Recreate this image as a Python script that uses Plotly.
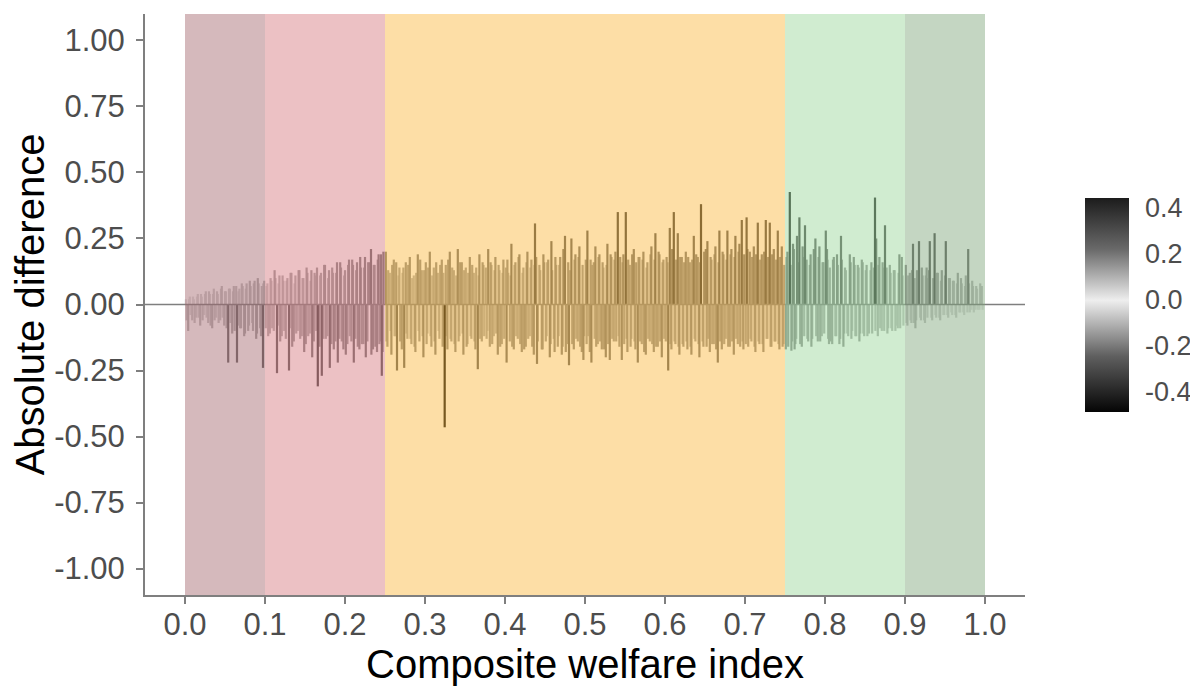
import plotly.graph_objects as go
from plotly.colors import sample_colorscale

# ---------------- data ----------------
band_edges = [0.0, 0.1, 0.25, 0.75, 0.9, 1.0]
# translucent band overlays (drawn above the segments, as in the original)
band_fills = ["rgba(162,99,106,0.45)", "rgba(213,118,124,0.45)", "rgba(251,182,57,0.45)",
              "rgba(151,213,151,0.45)", "rgba(124,164,119,0.45)"]

x_tick_vals = [0.0, 0.1, 0.2, 0.3, 0.4, 0.5, 0.6, 0.7, 0.8, 0.9, 1.0]
x_tick_text = ["0.0", "0.1", "0.2", "0.3", "0.4", "0.5", "0.6", "0.7", "0.8", "0.9", "1.0"]
y_tick_vals = [-1.0, -0.75, -0.5, -0.25, 0.0, 0.25, 0.5, 0.75, 1.0]
y_tick_text = ["-1.00", "-0.75", "-0.50", "-0.25", "0.00", "0.25", "0.50", "0.75", "1.00"]
cb_tick_vals = [-0.4, -0.2, 0.0, 0.2, 0.4]
cb_tick_text = ["-0.4", "-0.2", "0.0", "0.2", "0.4"]

# ---- set A ----
x_band1 = [0.001, 0.004, 0.006, 0.009, 0.011, 0.014, 0.016, 0.019, 0.021, 0.024, 0.026, 0.029, 0.031, 0.034,
           0.036, 0.039, 0.041, 0.044, 0.046, 0.049, 0.051, 0.054, 0.056, 0.059, 0.061, 0.065, 0.067, 0.069,
           0.071, 0.074, 0.076, 0.079, 0.081, 0.084, 0.086, 0.089, 0.091, 0.094, 0.096, 0.0975, 0.099]
y_band1 = [0.02, -0.10, 0.03, -0.06, 0.02, -0.05, 0.04, -0.08, 0.03, -0.04, 0.05, -0.07, 0.04, -0.09,
           0.06, -0.05, 0.04, -0.06, 0.07, -0.08, 0.05, -0.22, 0.06, -0.11, 0.07, -0.22, 0.05, -0.09,
           0.08, -0.12, 0.06, -0.10, 0.09, -0.07, 0.08, -0.13, 0.10, -0.09, 0.07, -0.24, 0.09]

x_band2 = [0.102, 0.104, 0.107, 0.109, 0.112, 0.115, 0.117, 0.119, 0.122, 0.124, 0.127, 0.130, 0.132, 0.134,
           0.137, 0.139, 0.142, 0.144, 0.147, 0.149, 0.152, 0.154, 0.157, 0.159, 0.162, 0.164, 0.166, 0.169,
           0.171, 0.174, 0.176, 0.179, 0.181, 0.184, 0.186, 0.189, 0.191, 0.194, 0.196, 0.199, 0.201, 0.204,
           0.206, 0.209, 0.211, 0.214, 0.216, 0.219, 0.221, 0.224, 0.226, 0.229, 0.2325, 0.235, 0.237, 0.240,
           0.242, 0.244, 0.246, 0.248]
y_band2 = [0.07, -0.12, 0.10, -0.09, 0.13, -0.26, 0.08, -0.14, 0.11, -0.10, 0.09, -0.25, 0.12, -0.16,
           0.08, -0.11, 0.13, -0.13, 0.10, -0.18, 0.14, -0.12, 0.09, -0.20, 0.12, -0.10, -0.31, 0.11,
           -0.27, 0.15, -0.13, 0.10, -0.24, 0.14, -0.17, 0.12, -0.22, 0.16, -0.14, 0.11, -0.19, 0.15,
           -0.12, 0.17, -0.22, 0.13, -0.16, 0.18, -0.15, 0.14, -0.20, 0.16, 0.21, -0.17, 0.15, -0.18,
           0.19, -0.14, -0.27, 0.20]

x_band3a = [0.251, 0.253, 0.256, 0.258, 0.261, 0.263, 0.265, 0.268, 0.271, 0.274, 0.276, 0.278, 0.281, 0.283,
            0.286, 0.288, 0.291, 0.293, 0.296, 0.298, 0.301, 0.303, 0.306, 0.308, 0.311, 0.313, 0.316, 0.318,
            0.321, 0.3246, 0.326, 0.328, 0.331, 0.333, 0.336, 0.338, 0.341, 0.343, 0.346, 0.348, 0.351, 0.353,
            0.356, 0.358, 0.361, 0.363, 0.366, 0.368, 0.371, 0.373]
y_band3a = [0.20, -0.16, 0.12, -0.19, 0.17, -0.12, -0.25, 0.14, -0.17, -0.24, 0.16, -0.13, 0.18, -0.15,
            0.11, -0.18, 0.19, -0.14, 0.13, -0.20, 0.16, -0.11, 0.20, -0.16, 0.14, -0.19, 0.12, -0.13,
            0.17, -0.465, 0.15, -0.17, 0.20, -0.14, 0.13, -0.18, 0.21, -0.12, 0.16, -0.19, 0.14, -0.15,
            0.18, -0.13, 0.12, -0.17, -0.245, 0.19, -0.14, 0.15]

x_band3b = [0.376, 0.379, 0.381, 0.383, 0.386, 0.388, 0.391, 0.393, 0.396, 0.398, 0.402, 0.404, 0.406, 0.408,
            0.411, 0.413, 0.416, 0.418, 0.421, 0.423, 0.426, 0.428, 0.431, 0.433, 0.436, 0.4375, 0.440, 0.443,
            0.446, 0.448, 0.451, 0.453, 0.456, 0.458, 0.461, 0.463, 0.466, 0.468, 0.471, 0.473, 0.475, 0.478,
            0.480, 0.483, 0.486, 0.488, 0.491, 0.493, 0.496, 0.498]
y_band3b = [0.14, 0.21, -0.16, 0.15, -0.12, 0.18, -0.19, 0.13, -0.15, 0.17, -0.22, 0.12, -0.14, 0.23,
            -0.17, 0.16, -0.13, 0.19, -0.18, 0.14, -0.16, 0.20, -0.12, 0.17, -0.19, 0.307, -0.225, 0.15,
            -0.17, 0.19, -0.14, 0.16, -0.20, 0.24, -0.13, 0.18, -0.16, 0.15, -0.19, 0.21, 0.26, -0.15,
            -0.23, 0.25, -0.17, 0.19, -0.14, 0.22, -0.18, -0.21]

x_band3c = [0.501, 0.503, 0.506, 0.508, 0.511, 0.513, 0.516, 0.518, 0.521, 0.523, 0.526, 0.528, 0.531, 0.533,
            0.536, 0.538, 0.541, 0.543, 0.546, 0.548, 0.551, 0.553, 0.556, 0.558, 0.561, 0.563, 0.566, 0.568,
            0.571, 0.573, 0.576, 0.578, 0.581, 0.583, 0.586, 0.588, 0.591, 0.593, 0.596, 0.598, 0.601, 0.604,
            0.606, 0.608, 0.611, 0.613, 0.616, 0.618, 0.621, 0.623]
y_band3c = [0.17, 0.28, -0.18, -0.22, 0.16, 0.22, -0.15, 0.19, -0.17, 0.14, -0.20, 0.23, -0.21, 0.18,
            -0.14, 0.20, 0.35, -0.16, -0.21, 0.19, 0.35, -0.18, 0.15, -0.13, 0.21, -0.17, -0.22, 0.18,
            -0.15, 0.20, -0.19, 0.16, -0.14, 0.22, -0.18, 0.27, -0.16, 0.19, -0.20, 0.17, -0.14, -0.25,
            0.29, -0.17, 0.35, -0.15, 0.27, -0.19, 0.18, -0.16]

x_band3d = [0.626, 0.628, 0.631, 0.633, 0.636, 0.638, 0.641, 0.643, 0.645, 0.648, 0.651, 0.653, 0.656, 0.658,
            0.661, 0.663, 0.666, 0.668, 0.671, 0.673, 0.676, 0.678, 0.681, 0.683, 0.686, 0.688, 0.691, 0.693,
            0.696, 0.698, 0.702, 0.704, 0.706, 0.708, 0.711, 0.713, 0.716, 0.718, 0.721, 0.723, 0.726, 0.728,
            0.731, 0.733, 0.736, 0.738, 0.741, 0.743, 0.746, 0.748]
y_band3d = [0.20, -0.17, 0.16, -0.19, 0.26, -0.14, 0.18, -0.20, 0.38, -0.16, 0.21, 0.24, -0.18, 0.17,
            -0.15, 0.22, -0.22, 0.28, -0.17, 0.19, -0.13, 0.28, -0.16, 0.21, -0.19, 0.26, -0.15, 0.23,
            0.32, -0.17, 0.33, -0.16, 0.20, -0.14, 0.22, -0.18, 0.31, -0.15, 0.19, -0.18, 0.32, -0.13,
            0.31, -0.16, 0.21, -0.14, 0.28, -0.17, 0.22, -0.15]

x_band4 = [0.751, 0.753, 0.756, 0.758, 0.760, 0.763, 0.765, 0.768, 0.771, 0.773, 0.775, 0.778, 0.781, 0.783,
           0.786, 0.788, 0.791, 0.793, 0.796, 0.798, 0.801, 0.8025, 0.805, 0.807, 0.810, 0.813, 0.815, 0.818,
           0.820, 0.823, 0.825, 0.828, 0.831, 0.833, 0.836, 0.838, 0.841, 0.843, 0.846, 0.848, 0.851, 0.853,
           0.855, 0.858, 0.8625, 0.864, 0.866, 0.868, 0.871, 0.873, 0.875, 0.878, 0.881, 0.883, 0.886, 0.888,
           0.891, 0.893, 0.896, 0.898]
y_band4 = [-0.17, 0.20, 0.426, -0.175, 0.23, -0.15, 0.26, 0.33, -0.16, 0.18, 0.30, -0.13, 0.15, -0.16,
           0.21, 0.25, -0.14, 0.22, -0.12, 0.16, 0.28, 0.21, -0.15, -0.14, 0.17, -0.12, 0.19, -0.15,
           0.26, -0.16, 0.14, -0.11, 0.19, -0.13, 0.18, -0.12, 0.15, -0.14, 0.17, -0.11, 0.13, -0.12,
           -0.11, 0.16, 0.405, 0.25, -0.12, 0.18, -0.10, 0.14, 0.30, -0.11, 0.15, -0.09, 0.13, -0.10,
           -0.09, 0.19, 0.18, -0.08]

x_band5 = [0.901, 0.903, 0.906, 0.908, 0.910, 0.913, 0.915, 0.9175, 0.920, 0.922, 0.925, 0.927, 0.929, 0.931,
           0.934, 0.937, 0.939, 0.941, 0.944, 0.946, 0.949, 0.951, 0.954, 0.956, 0.959, 0.961, 0.964, 0.966,
           0.969, 0.971, 0.974, 0.976, 0.979, 0.981, 0.984, 0.986, 0.989, 0.991, 0.994, 0.997]
y_band5 = [0.15, -0.08, 0.12, -0.07, 0.23, -0.09, 0.13, 0.24, -0.06, 0.11, -0.07, 0.14, 0.10, 0.24,
           -0.06, 0.27, -0.05, 0.12, -0.06, 0.13, -0.04, 0.24, -0.05, 0.10, -0.04, 0.09, -0.05, 0.12,
           -0.03, 0.08, -0.04, 0.11, 0.21, -0.03, 0.09, -0.03, 0.07, -0.02, 0.08, -0.02]

# ---- set B ----
xb_band1 = [0.002, 0.005, 0.007, 0.010, 0.012, 0.015, 0.017, 0.020, 0.022, 0.025, 0.027, 0.030, 0.032, 0.035,
            0.037, 0.040, 0.042, 0.045, 0.047, 0.050, 0.052, 0.055, 0.057, 0.060, 0.062, 0.064, 0.066, 0.068,
            0.070, 0.072, 0.075, 0.077, 0.080, 0.082, 0.085, 0.087, 0.090, 0.092, 0.095, 0.098]
yb_band1 = [-0.06, 0.02, -0.04, 0.03, -0.07, 0.03, -0.05, 0.04, -0.06, 0.04, -0.05, 0.05, -0.08, 0.04,
            -0.06, 0.05, -0.07, 0.06, -0.05, 0.05, -0.09, 0.06, -0.07, 0.05, -0.10, 0.07, -0.08, 0.06,
            -0.09, 0.07, -0.11, 0.08, -0.08, 0.07, -0.10, 0.09, -0.11, 0.08, -0.12, 0.08]

xb_band2 = [0.101, 0.103, 0.106, 0.108, 0.111, 0.113, 0.116, 0.118, 0.121, 0.123, 0.126, 0.128, 0.131, 0.133,
            0.136, 0.138, 0.141, 0.143, 0.146, 0.148, 0.151, 0.153, 0.156, 0.158, 0.161, 0.163, 0.165, 0.168,
            0.170, 0.173, 0.175, 0.178, 0.180, 0.183, 0.185, 0.188, 0.190, 0.193, 0.195, 0.198, 0.200, 0.203,
            0.205, 0.208, 0.210, 0.213, 0.215, 0.218, 0.220, 0.223, 0.225, 0.228, 0.231, 0.233, 0.236, 0.238,
            0.241, 0.243, 0.245, 0.247]
yb_band2 = [-0.09, 0.08, -0.11, 0.09, -0.10, 0.10, -0.08, 0.11, -0.12, 0.09, -0.13, 0.10, -0.09, 0.12,
            -0.14, 0.11, -0.10, 0.13, -0.12, 0.10, -0.15, 0.12, -0.11, 0.13, -0.14, 0.11, 0.14, -0.16,
            0.12, -0.13, 0.15, -0.12, 0.13, -0.15, 0.12, -0.14, 0.16, -0.13, 0.14, -0.17, 0.13, -0.15,
            0.17, -0.14, 0.15, -0.13, 0.16, -0.17, 0.14, -0.15, 0.18, -0.14, 0.16, -0.19, 0.15, -0.16,
            0.17, -0.15, 0.19, -0.18]

xb_band3a = [0.252, 0.254, 0.257, 0.259, 0.262, 0.264, 0.267, 0.269, 0.272, 0.273, 0.277, 0.279, 0.282, 0.284,
             0.287, 0.289, 0.292, 0.294, 0.297, 0.299, 0.302, 0.304, 0.307, 0.309, 0.312, 0.314, 0.317, 0.319,
             0.322, 0.323, 0.327, 0.329, 0.332, 0.334, 0.337, 0.339, 0.342, 0.344, 0.347, 0.349, 0.352, 0.354,
             0.357, 0.359, 0.362, 0.364, 0.367, 0.369, 0.372, 0.374]
yb_band3a = [-0.14, 0.13, -0.10, 0.15, -0.12, 0.16, 0.11, -0.14, 0.12, 0.14, -0.11, 0.15, -0.13, 0.10,
             -0.16, 0.12, -0.10, 0.17, -0.12, 0.13, -0.15, 0.14, -0.12, 0.11, -0.14, 0.16, -0.10, 0.15,
             -0.16, 0.12, -0.12, 0.17, -0.13, 0.14, -0.15, 0.11, -0.14, 0.16, -0.11, 0.13, -0.16, 0.12,
             -0.12, 0.15, -0.14, 0.14, 0.11, -0.13, 0.16, -0.12]

xb_band3b = [0.377, 0.378, 0.382, 0.384, 0.387, 0.389, 0.392, 0.394, 0.397, 0.399, 0.401, 0.403, 0.407, 0.409,
             0.412, 0.414, 0.417, 0.419, 0.422, 0.424, 0.427, 0.429, 0.432, 0.434, 0.437, 0.439, 0.441, 0.444,
             0.447, 0.449, 0.452, 0.454, 0.457, 0.459, 0.462, 0.464, 0.467, 0.469, 0.472, 0.474, 0.476, 0.479,
             0.481, 0.484, 0.487, 0.489, 0.492, 0.494, 0.497, 0.499]
yb_band3b = [-0.13, -0.10, 0.16, -0.15, 0.13, -0.11, 0.15, -0.16, 0.12, -0.13, 0.14, 0.17, 0.11, -0.16,
             0.15, -0.12, 0.18, -0.15, 0.12, -0.17, 0.16, -0.13, 0.14, -0.16, 0.15, 0.18, -0.14, 0.13,
             -0.17, 0.16, -0.12, 0.17, -0.15, 0.13, -0.18, 0.15, -0.12, 0.18, -0.16, 0.14, -0.18, 0.16,
             0.13, -0.15, 0.17, -0.13, 0.18, -0.16, 0.15, -0.12]

xb_band3c = [0.502, 0.504, 0.507, 0.509, 0.512, 0.514, 0.517, 0.519, 0.522, 0.524, 0.527, 0.529, 0.532, 0.534,
             0.537, 0.539, 0.542, 0.544, 0.547, 0.549, 0.552, 0.554, 0.557, 0.559, 0.562, 0.564, 0.567, 0.569,
             0.572, 0.574, 0.577, 0.579, 0.582, 0.584, 0.587, 0.589, 0.592, 0.594, 0.597, 0.599, 0.602, 0.603,
             0.607, 0.609, 0.612, 0.614, 0.617, 0.619, 0.622, 0.624]
yb_band3c = [-0.15, -0.12, 0.17, 0.15, -0.13, -0.16, 0.18, -0.14, 0.16, -0.17, 0.15, -0.15, 0.19, -0.13,
             0.17, -0.14, -0.12, 0.18, 0.16, -0.15, -0.13, 0.17, -0.16, 0.19, -0.14, 0.16, 0.18, -0.14,
             0.17, -0.18, 0.14, -0.13, 0.19, -0.15, 0.17, -0.16, 0.20, -0.14, 0.16, -0.13, 0.18, 0.16,
             -0.15, 0.21, -0.14, 0.17, -0.16, 0.18, -0.15, 0.16]

xb_band3d = [0.627, 0.629, 0.632, 0.634, 0.637, 0.639, 0.642, 0.644, 0.647, 0.649, 0.652, 0.654, 0.657, 0.659,
             0.662, 0.664, 0.667, 0.669, 0.672, 0.674, 0.677, 0.679, 0.682, 0.684, 0.687, 0.689, 0.692, 0.694,
             0.697, 0.699, 0.701, 0.703, 0.707, 0.709, 0.712, 0.714, 0.717, 0.719, 0.722, 0.724, 0.727, 0.729,
             0.732, 0.734, 0.737, 0.739, 0.742, 0.744, 0.747, 0.749]
yb_band3d = [-0.14, 0.18, -0.16, 0.17, -0.13, 0.19, -0.15, 0.16, -0.14, 0.20, -0.16, -0.13, 0.18, -0.15,
             0.19, -0.17, 0.16, -0.14, 0.20, -0.15, 0.17, -0.16, 0.19, -0.14, 0.18, -0.13, 0.20, -0.16,
             -0.14, 0.19, -0.15, 0.21, -0.13, 0.18, -0.16, 0.19, -0.14, 0.17, -0.15, 0.20, -0.13, 0.18,
             -0.16, 0.19, -0.14, 0.17, -0.15, 0.18, -0.16, 0.15]

xb_band4 = [0.752, 0.754, 0.757, 0.759, 0.761, 0.762, 0.764, 0.767, 0.769, 0.772, 0.774, 0.777, 0.779, 0.782,
            0.784, 0.787, 0.789, 0.792, 0.794, 0.797, 0.799, 0.803, 0.804, 0.806, 0.809, 0.811, 0.814, 0.816,
            0.819, 0.821, 0.824, 0.826, 0.829, 0.832, 0.834, 0.837, 0.839, 0.842, 0.844, 0.847, 0.849, 0.852,
            0.854, 0.857, 0.859, 0.861, 0.863, 0.867, 0.869, 0.872, 0.874, 0.877, 0.879, 0.882, 0.884, 0.887,
            0.889, 0.892, 0.894, 0.897]
yb_band4 = [0.18, -0.16, 0.15, -0.14, 0.21, -0.17, -0.13, 0.16, -0.15, 0.22, -0.12, 0.17, -0.14, 0.19,
            -0.13, 0.15, -0.12, 0.18, -0.14, 0.16, -0.11, 0.17, -0.13, 0.14, -0.15, 0.18, -0.12, 0.15,
            -0.13, 0.17, -0.11, 0.13, -0.12, 0.16, -0.10, 0.15, -0.12, 0.14, -0.11, 0.16, -0.12, 0.15,
            -0.10, 0.13, -0.11, 0.14, -0.10, 0.15, -0.09, 0.16, -0.10, 0.14, -0.09, 0.12, -0.10, 0.13,
            -0.08, 0.12, -0.09, 0.11]

xb_band5 = [0.902, 0.904, 0.907, 0.909, 0.911, 0.912, 0.914, 0.916, 0.919, 0.921, 0.924, 0.926, 0.928, 0.930,
            0.933, 0.935, 0.938, 0.940, 0.943, 0.945, 0.948, 0.950, 0.953, 0.955, 0.958, 0.960, 0.963, 0.965,
            0.968, 0.970, 0.973, 0.975, 0.978, 0.980, 0.983, 0.985, 0.988, 0.990, 0.993, 0.996]
yb_band5 = [-0.07, 0.11, -0.06, 0.13, -0.07, 0.10, -0.06, 0.12, -0.05, 0.14, -0.06, 0.11, -0.05, 0.13,
            -0.05, 0.10, -0.04, 0.12, -0.05, 0.09, -0.04, 0.11, -0.04, 0.10, -0.03, 0.09, -0.04, 0.08,
            -0.03, 0.10, -0.03, 0.07, -0.03, 0.08, -0.02, 0.07, -0.02, 0.06, -0.02, 0.07]

welfare_index = (x_band1 + x_band2 + x_band3a + x_band3b + x_band3c + x_band3d + x_band4 + x_band5
                 + xb_band1 + xb_band2 + xb_band3a + xb_band3b + xb_band3c + xb_band3d + xb_band4 + xb_band5)
abs_difference = (y_band1 + y_band2 + y_band3a + y_band3b + y_band3c + y_band3d + y_band4 + y_band5
                  + yb_band1 + yb_band2 + yb_band3a + yb_band3b + yb_band3c + yb_band3d + yb_band4 + yb_band5)
assert len(welfare_index) == len(abs_difference)

# ---------------- styling ----------------
cmin, cmax = -0.485, 0.445
mid = (0 - cmin) / (cmax - cmin)
cscale = [
    [0.0, "rgb(5,5,5)"],
    [mid * 0.5, "rgb(95,95,95)"],
    [mid, "rgb(238,238,238)"],
    [mid + (1 - mid) * 0.5, "rgb(105,105,105)"],
    [1.0, "rgb(28,28,28)"],
]
FONT = "Liberation Sans, Arial, sans-serif"
AXIS_GREY = "#7f7f7f"
TICK_TXT = "#4d4d4d"

fig = go.Figure()

groups = {}
for xv, yv in zip(welfare_index, abs_difference):
    t = (yv - cmin) / (cmax - cmin)
    t = round(t * 60) / 60
    gx, gy = groups.setdefault(t, ([], []))
    gx += [xv, xv, None]
    gy += [0, yv, None]

for t, (gx, gy) in sorted(groups.items(), key=lambda kv: abs(kv[0] - mid)):
    c = sample_colorscale(cscale, [min(max(t, 0), 1)])[0]
    fig.add_trace(go.Scatter(x=gx, y=gy, mode="lines", line=dict(color=c, width=2.2),
                             hoverinfo="skip", showlegend=False))

# zero reference line (under the translucent bands)
fig.add_trace(go.Scatter(x=[-0.05, 1.05], y=[0, 0], mode="lines",
                         line=dict(color="#7f7f7f", width=1.5), hoverinfo="skip", showlegend=False))

for i, col in enumerate(band_fills):
    fig.add_vrect(x0=band_edges[i], x1=band_edges[i + 1], fillcolor=col, opacity=1,
                  line_width=0, layer="above")

fig.add_trace(go.Scatter(
    x=[None], y=[None], mode="markers", showlegend=False, hoverinfo="skip",
    marker=dict(color=[cmin, cmax], cmin=cmin, cmax=cmax, colorscale=cscale, showscale=True,
                colorbar=dict(thickness=44, len=214, lenmode="pixels", x=1.068, xanchor="left",
                              y=0.5, yanchor="middle", outlinewidth=0, xpad=0, ypad=0,
                              ticks="outside", ticklen=11, tickwidth=1, tickcolor="rgba(0,0,0,0)",
                              tickvals=cb_tick_vals, ticktext=cb_tick_text,
                              tickfont=dict(family=FONT, size=27, color=TICK_TXT)))))

# page body adds an 8px offset, so the figure is 8px smaller than the window
fig.update_layout(
    width=1190, height=679,
    margin=dict(l=137, r=173, t=6, b=92, autoexpand=False),
    plot_bgcolor="white", paper_bgcolor="white",
    font=dict(family=FONT),
    xaxis=dict(range=[-0.05, 1.05], tickvals=x_tick_vals, ticktext=x_tick_text, automargin=False,
               showline=True, linecolor=AXIS_GREY, linewidth=2, ticks="outside", ticklen=7,
               tickwidth=2, tickcolor=AXIS_GREY, showgrid=False, zeroline=False,
               ticklabelstandoff=-6,
               tickfont=dict(family=FONT, size=31, color=TICK_TXT),
               title=dict(text="Composite welfare index", standoff=9,
                          font=dict(family=FONT, size=40, color="black"))),
    yaxis=dict(range=[-1.1, 1.1], tickvals=y_tick_vals, ticktext=y_tick_text, automargin=False,
               showline=True, linecolor=AXIS_GREY, linewidth=2, ticks="outside", ticklen=7,
               tickwidth=2, tickcolor=AXIS_GREY, showgrid=False, zeroline=False,
               ticklabelstandoff=5,
               tickfont=dict(family=FONT, size=31, color=TICK_TXT),
               title=dict(text="Absolute difference", standoff=8,
                          font=dict(family=FONT, size=40, color="black"))),
)

fig.write_html("out.html")
